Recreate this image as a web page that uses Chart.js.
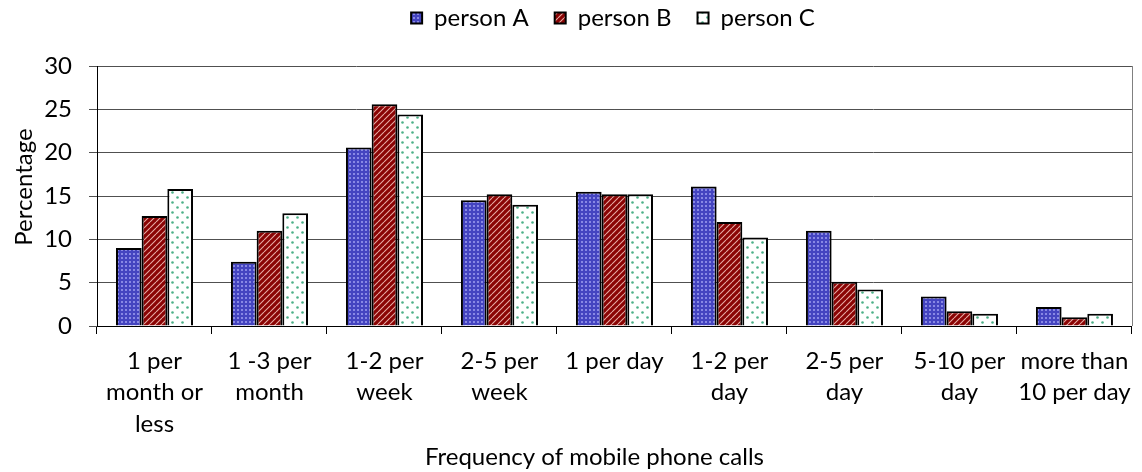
<!DOCTYPE html>
<html><head><meta charset="utf-8">
<script src="https://cdn.jsdelivr.net/npm/chart.js@4.4.1/dist/chart.umd.min.js"></script>
<style>html,body{margin:0;padding:0;background:#fff}#wrap{width:1142px;height:472px}</style>
</head><body><div id="wrap"><canvas id="c" width="1142" height="472"></canvas></div>
<script>
const categories = [["1 per","month or","less"],["1 -3 per","month"],["1-2 per","week"],["2-5 per","week"],["1 per day"],["1-2 per","day"],["2-5 per","day"],["5-10 per","day"],["more than","10 per day"]];
const personA = [9.0, 7.4, 20.6, 14.5, 15.5, 16.1, 11.0, 3.4, 2.2];
const personB = [12.7, 11.0, 25.6, 15.2, 15.2, 12.0, 5.1, 1.7, 1.0];
const personC = [15.8, 13.0, 24.4, 14.0, 15.2, 10.2, 4.2, 1.4, 1.4];
const seriesNames = ["person A","person B","person C"];
const yTicks = [0,5,10,15,20,25,30];

function makePattern(kind){
  const c=document.createElement('canvas');
  const ctx=c.getContext('2d');
  if(kind==='A'){
    c.width=4;c.height=4;
    ctx.fillStyle='#4444c0';ctx.fillRect(0,0,4,4);
    ctx.fillStyle='#8888e4';ctx.fillRect(1,1,2,2);
  } else if(kind==='B'){
    c.width=6;c.height=6;
    ctx.fillStyle='#8a0404';ctx.fillRect(0,0,6,6);
    ctx.strokeStyle='#e6aaa4';ctx.lineWidth=1.1;
    ctx.beginPath();
    for(let k=-6;k<=12;k+=6){ctx.moveTo(k,6);ctx.lineTo(k+6,0);}
    ctx.stroke();
  } else {
    c.width=10;c.height=10;
    ctx.fillStyle='#ffffff';ctx.fillRect(0,0,10,10);
    ctx.fillStyle='#4cb088';
    ctx.beginPath();ctx.arc(2.5,2.5,1.3,0,Math.PI*2);ctx.fill();
    ctx.beginPath();ctx.arc(7.5,7.5,1.3,0,Math.PI*2);ctx.fill();
  }
  return document.getElementById('c').getContext('2d').createPattern(c,'repeat');
}

const font = "Lato, 'Open Sans', sans-serif";
const FS = 24;
function shiftTitle(scale, dx, dy){
  if(scale._shifted) return;
  const orig = scale.drawTitle.bind(scale);
  scale.drawTitle = function(a){ this.ctx.save(); this.ctx.translate(dx,dy); orig(a); this.ctx.restore(); };
  scale._shifted = true;
}
const tweaks = {
  id:'tweaks',
  beforeInit(chart){
    const lg=chart.legend; const of=lg.fit.bind(lg);
    lg.fit=function(){ of(); this.height=66; };
  },
  afterLayout(chart){
    const lg = chart.legend;
    if(lg){ lg.left += 40; lg.right += 40; lg.top -= 20; }
    shiftTitle(chart.scales.x, -20, 0);
    shiftTitle(chart.scales.y, 0, -9);
  },
  afterDatasetsDraw(chart){
    const a=chart.chartArea, ctx=chart.ctx;
    ctx.save();ctx.strokeStyle='#808080';ctx.lineWidth=1;
    ctx.beginPath();ctx.moveTo(Math.round(a.right)+0.5,a.top);ctx.lineTo(Math.round(a.right)+0.5,a.bottom);ctx.stroke();
    ctx.restore();
  }
};

new Chart(document.getElementById('c'),{
  type:'bar',
  data:{
    labels:categories,
    datasets:[
      {label:seriesNames[0],data:personA,backgroundColor:makePattern('A'),borderColor:'#000',borderWidth:2},
      {label:seriesNames[1],data:personB,backgroundColor:makePattern('B'),borderColor:'#000',borderWidth:2},
      {label:seriesNames[2],data:personC,backgroundColor:makePattern('C'),borderColor:'#000',borderWidth:2}
    ]
  },
  options:{
    responsive:false,animation:false,
    layout:{padding:{left:10,right:6,top:0,bottom:0}},
    datasets:{bar:{categoryPercentage:0.67,barPercentage:1.0}},
    plugins:{
      legend:{position:'top',labels:{font:{family:font,size:FS},color:'#000',boxWidth:11,boxHeight:11,padding:26},onClick:null},
      tooltip:{enabled:false}
    },
    scales:{
      x:{
        grid:{offset:true,drawOnChartArea:false,drawTicks:true,tickLength:8,color:'#000'},
        border:{color:'#000',width:1},
        ticks:{font:{family:font,size:FS,lineHeight:1.32},color:'#000',maxRotation:0,autoSkip:false,padding:11},
        title:{display:true,text:'Frequency of mobile phone calls',font:{family:font,size:FS},color:'#000',padding:{top:0,bottom:0}},
        afterFit:s=>{s.height=146;}
      },
      y:{
        min:0,max:30,
        afterBuildTicks:s=>{s.ticks=yTicks.map(v=>({value:v}));},
        grid:{color:'#505050',tickLength:8,drawTicks:true},
        border:{color:'#000',width:1},
        ticks:{font:{family:font,size:FS},color:'#000',padding:17},
        title:{display:true,text:'Percentage',font:{family:font,size:FS},color:'#000',padding:{top:0,bottom:0}},
        afterFit:s=>{s.width=87;}
      }
    }
  },
  plugins:[tweaks]
});
</script></body></html>
